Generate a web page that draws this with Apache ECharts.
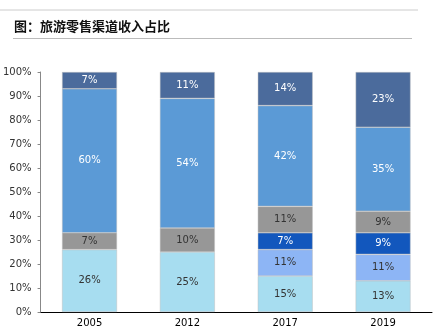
<!DOCTYPE html>
<html><head><meta charset="utf-8">
<script src="https://cdn.jsdelivr.net/npm/echarts@6/dist/echarts.min.js"></script>
<style>html,body{margin:0;padding:0;background:#fff}#c{width:439px;height:333px}</style>
</head><body><div id="c"></div>
<script>
var categories = ['2005', '2012', '2017', '2019'];
var seriesNames = ['s1', 's2', 's3', 's4', 's5', 's6'];
var s1 = [26, 25, 15, 13];
var s2 = [null, null, 11, 11];
var s3 = [null, null, 7, 9];
var s4 = [7, 10, 11, 9];
var s5 = [60, 54, 42, 35];
var s6 = [7, 11, 14, 23];
var yTicks = [0, 10, 20, 30, 40, 50, 60, 70, 80, 90, 100];

var colors = ['#A7DDF0', '#8DB5F5', '#1257BD', '#979797', '#5B9AD6', '#4B6B9C'];
var labelColors = ['#333', '#333', '#fff', '#333', '#fff', '#fff'];
var data = [s1, s2, s3, s4, s5, s6];

var series = data.map(function (d, i) {
  return {
    name: seriesNames[i], type: 'bar', stack: 'total', data: d,
    barWidth: 55,
    itemStyle: { color: colors[i], borderColor: 'rgba(190,190,190,0.8)', borderWidth: 0.6 },
    label: { show: true, position: 'inside', formatter: '{c}%', color: labelColors[i],
      fontSize: 10, fontFamily: 'DejaVu Sans' }
  };
});

var chart = echarts.init(document.getElementById('c'));
chart.setOption({
  animation: false,
  grid: { left: 40, right: 7, top: 72, bottom: 21 },
  xAxis: {
    type: 'category', data: categories,
    axisLine: { lineStyle: { color: '#000', width: 1 } },
    axisTick: { show: false },
    axisLabel: { color: '#000', fontSize: 10, fontFamily: 'DejaVu Sans', margin: 6 }
  },
  yAxis: {
    type: 'value', min: 0, max: 100, interval: 10,
    axisLine: { show: true, lineStyle: { color: '#888' } },
    axisTick: { show: true, length: 3, lineStyle: { color: '#888' } },
    splitLine: { show: false },
    axisLabel: { color: '#333', fontSize: 10, fontFamily: 'DejaVu Sans', margin: 9,
      formatter: function (v) { return yTicks.indexOf(v) >= 0 ? v + '%' : ''; } }
  },
  series: series,
  graphic: [
    { type: 'line', shape: { x1: 0, y1: 10, x2: 418, y2: 10 }, style: { stroke: '#ccc', lineWidth: 1 } },
    { type: 'line', shape: { x1: 13, y1: 38.5, x2: 412, y2: 38.5 }, style: { stroke: '#bbb', lineWidth: 1 } },
    { type: 'text', left: 14, top: 20, style: { text: '图：旅游零售渠道收入占比', fill: '#111',
      font: 'bold 13px "Noto Sans CJK SC"' } }
  ]
});
</script></body></html>
